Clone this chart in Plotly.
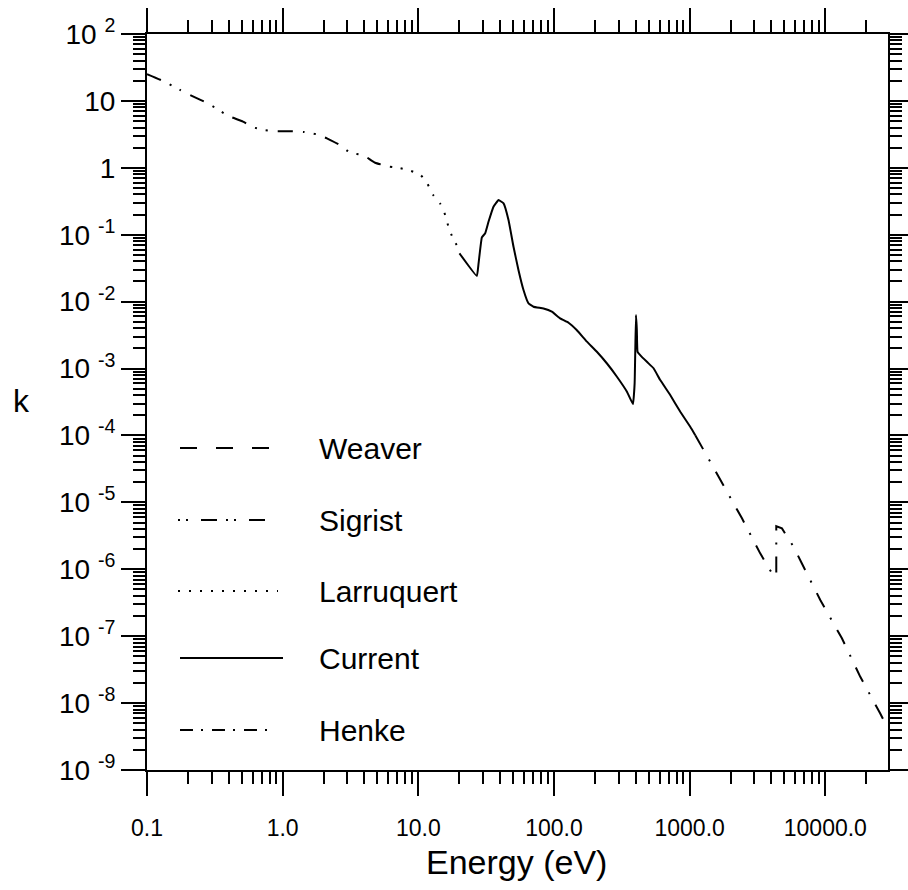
import plotly.graph_objects as go

# ---------------- data ----------------
weaver_E = []
weaver_k = []

sigrist_E = [0.10, 0.132, 0.175, 0.226, 0.277, 0.328, 0.395, 0.51, 0.605, 0.74,
             0.893, 1.19, 1.44, 1.79, 2.12, 2.69, 3.14, 3.92, 4.8, 6.17]
sigrist_k = [25.2, 19.8, 14.6, 11.3, 9.3, 7.6, 6.0, 4.9, 4.03, 3.67,
             3.51, 3.51, 3.43, 3.16, 2.76, 2.14, 1.68, 1.55, 1.19, 1.04]

larru_E = [6.17, 7.35, 8.7, 10.4, 11.6, 12.9, 14.5, 15.8, 16.7, 18.0, 19.8]
larru_k = [1.04, 0.99, 0.91, 0.78, 0.59, 0.39, 0.29, 0.197, 0.13, 0.088, 0.063]

current_E = [20.1, 27.0, 27.8, 29.4, 31.1, 32.9, 35.8, 39.0, 42.5, 46.2, 50.3,
             54.7, 59.6, 64.9, 70.6, 83.7, 96.4, 111, 128, 147, 175, 207, 245,
             291, 345, 382, 393, 402, 408, 413, 432, 484, 542, 607, 719, 853,
             1010, 1100]
current_k = [0.0527, 0.0242, 0.0373, 0.0914, 0.105, 0.156, 0.262, 0.330, 0.294,
             0.166, 0.066, 0.0297, 0.0149, 0.0094, 0.0084, 0.0079, 0.00707,
             0.00562, 0.00484, 0.00377, 0.00252, 0.00178, 0.0012, 0.000755,
             0.00045, 0.000294, 0.00060, 0.0063, 0.00377, 0.00178, 0.00159,
             0.00126, 0.00101, 0.000673, 0.000402, 0.000226, 0.000135, 0.000101]

henke_E = [1100, 1230, 1730, 2430, 3310, 4040, 4350, 4350, 4790, 5830, 6720,
           9180, 13250, 18100, 25400, 28800]
henke_k = [1.01e-4, 6.78e-5, 1.92e-5, 5.77e-6, 1.73e-6, 8.7e-7, 7.7e-7, 4.4e-6,
           4.08e-6, 2.17e-6, 1.22e-6, 3.47e-7, 9.3e-8, 2.47e-8, 7.0e-9, 4.2e-9]

legend_names = ["Weaver", "Sigrist", "Larruquert", "Current", "Henke"]

x_tickvals = [0.1, 1, 10, 100, 1000, 10000]
x_ticktext = ["0.1", "1.0", "10.0", "100.0", "1000.0", "10000.0"]
y_exponents = [2, 1, 0, -1, -2, -3, -4, -5, -6, -7, -8, -9]

# ---------------- styles ----------------
FONT = "Liberation Sans, Arial, sans-serif"
dash_weaver = "17px,19px"
dash_sigrist = "15px,10px,2px,9px,2px,10px"
dash_larru = "2px,9px"
dash_current = "solid"
dash_henke = "16px,12px,2px,12px"
smooth = {"Weaver": 0.4, "Sigrist": 0.4, "Larruquert": 0.4, "Current": 0.3, "Henke": 0}

legend_dash = {
    "Weaver": "17px,19px",
    "Sigrist": "2px,6px,2px,13px,16px,9px",
    "Larruquert": "2px,9px",
    "Current": "solid",
    "Henke": "13px,8px,2px,9px",
}

W, H = 908, 890
ML, MR, MT, MB = 147, 20, 34, 120
PW, PH = W - ML - MR, H - MT - MB


def px(xp):
    return (xp - ML) / PW


def py(yp):
    return (H - MB - yp) / PH


fig = go.Figure()
series = [
    ("Weaver", weaver_E, weaver_k, dash_weaver),
    ("Sigrist", sigrist_E, sigrist_k, dash_sigrist),
    ("Larruquert", larru_E, larru_k, dash_larru),
    ("Current", current_E, current_k, dash_current),
    ("Henke", henke_E, henke_k, dash_henke),
]
for name, xs, ys, d in series:
    s = smooth[name]
    line = dict(color="black", width=2, dash=d)
    if s > 0:
        line.update(shape="spline", smoothing=s)
    fig.add_trace(go.Scatter(x=xs, y=ys, mode="lines", name=name,
                             line=line, showlegend=False))

# manual legend (line samples + labels), positioned in paper space
leg_rows = [448, 520, 591, 658, 730]
leg_x0 = [180, 178, 178, 180, 180]
leg_x1 = [270, 272, 278, 283, 272]
shapes = []
annotations = []
for name, yrow, a, b in zip(legend_names, leg_rows, leg_x0, leg_x1):
    shapes.append(dict(type="line", xref="paper", yref="paper",
                       x0=px(a), x1=px(b), y0=py(yrow), y1=py(yrow),
                       line=dict(color="black", width=2, dash=legend_dash[name])))
    annotations.append(dict(text=name, xref="paper", yref="paper",
                            x=px(317), y=py(yrow), xanchor="left", yanchor="middle",
                            showarrow=False, font=dict(family=FONT, size=30, color="black")))

annotations.append(dict(text="k", xref="paper", yref="paper", x=px(22), y=py(401),
                        xanchor="center", yanchor="middle", showarrow=False,
                        font=dict(family=FONT, size=32, color="black")))
annotations.append(dict(text="Energy (eV)", xref="paper", yref="paper", x=px(516), y=py(862),
                        xanchor="center", yanchor="middle", showarrow=False,
                        font=dict(family=FONT, size=34, color="black")))

y_tickvals = [10.0 ** e for e in y_exponents]
y_ticktext = []
for e in y_exponents:
    if e == 0:
        y_ticktext.append("1")
    elif e == 1:
        y_ticktext.append("10")
    else:
        y_ticktext.append("10 <sup>%d</sup>" % e)

x_minor = [m * 10.0 ** d for d in range(-1, 5) for m in range(2, 10)]
y_minor = [m * 10.0 ** d for d in range(-9, 2) for m in range(2, 10)]

axis_common = dict(
    type="log", showgrid=False, zeroline=False, automargin=False,
    showline=True, linecolor="black", linewidth=2, mirror="ticks",
    ticks="outside", ticklen=24, tickwidth=2, tickcolor="black",
)

fig.update_layout(
    width=W, height=H,
    margin=dict(l=ML, r=MR, t=MT, b=MB, pad=0, autoexpand=False),
    paper_bgcolor="white", plot_bgcolor="white",
    font=dict(family=FONT, color="black"),
    showlegend=False,
    xaxis=dict(**axis_common, range=[-1, 4.462],
               tickmode="array", tickvals=x_tickvals, ticktext=x_ticktext,
               tickfont=dict(family=FONT, size=23, color="black"),
               ticklabelstandoff=12,
               minor=dict(tickmode="array", tickvals=x_minor, ticks="outside",
                          ticklen=12, tickwidth=2, tickcolor="black", showgrid=False)),
    yaxis=dict(**axis_common, range=[-9, 2],
               tickmode="array", tickvals=y_tickvals, ticktext=y_ticktext,
               tickfont=dict(family=FONT, size=28, color="black"),
               minor=dict(tickmode="array", tickvals=y_minor, ticks="outside",
                          ticklen=12, tickwidth=2, tickcolor="black", showgrid=False)),
    shapes=shapes,
    annotations=annotations,
)

fig.write_html("out.html")
